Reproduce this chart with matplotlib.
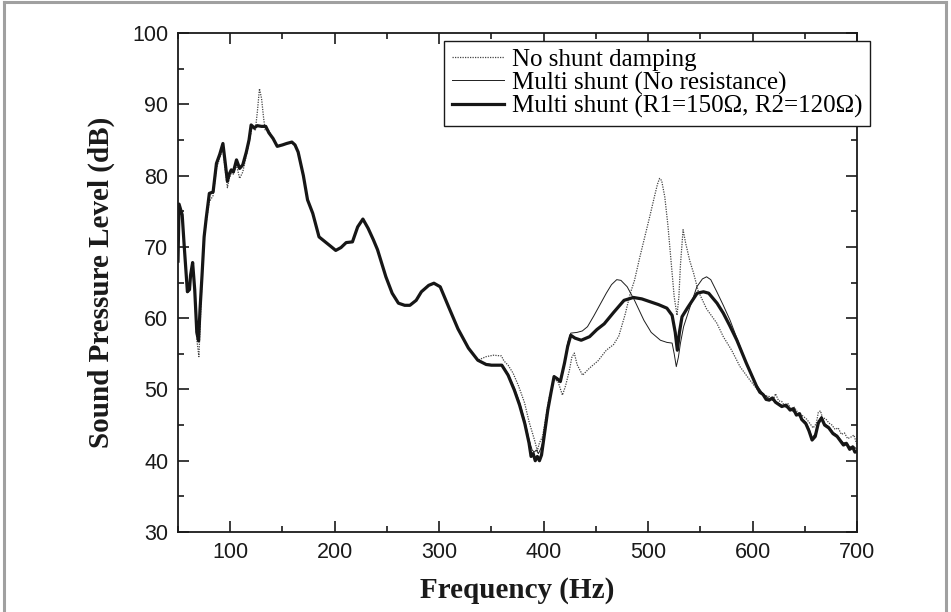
import matplotlib
matplotlib.use("Agg")
import matplotlib.pyplot as plt
from matplotlib.ticker import MultipleLocator
from matplotlib.lines import Line2D

# ---------------- data ----------------
# segment where all three curves (nearly) coincide at the low end
shared_f = [50, 51, 54, 56, 59, 61, 62, 64, 66, 68, 69.7, 71, 73, 75, 77, 80, 83.6,
            86.8, 90, 93, 95, 97.3, 99, 101, 103, 106, 109, 112, 115.4, 118]
shared_db = [68, 76, 74.5, 70, 63.7, 64, 66, 67.8, 64, 58, 56.8, 61, 66, 71.4, 74, 77.5, 77.7,
             81.7, 83, 84.5, 82, 79.2, 80.2, 80.8, 80.5, 82.2, 81.0, 81.5, 83.3, 85]

mid_f = [120, 123, 126, 130, 134, 137, 141, 145, 150, 154, 159, 162, 165, 170, 174, 179,
         185, 191, 196, 201, 206, 211, 217, 222, 227, 232, 237, 241, 249, 255, 261, 267,
         272, 278, 283, 290, 295, 301, 309, 318, 328, 337]
mid_db = [87.1, 86.7, 87.0, 86.9, 86.9, 86.0, 85.2, 84.1, 84.3, 84.5, 84.7, 84.3, 83.3, 80,
          76.6, 74.7, 71.4, 70.7, 70.1, 69.5, 69.9, 70.6, 70.7, 72.8, 73.9, 72.6, 71, 69.6,
          65.8, 63.5, 62.1, 61.8, 61.8, 62.5, 63.7, 64.6, 64.9, 64.4, 61.6, 58.5, 55.8, 54.1]

# Multi shunt (R1=150, R2=120) tail
r_f = [345, 350, 360, 366, 372, 377, 382, 386, 388, 390, 392, 394, 396, 398, 401, 404, 407,
       410, 413, 416, 420, 423, 426, 430, 436, 444, 451, 458, 467, 477, 486, 494, 502, 510,
       518, 523, 526, 528, 530, 532.5, 538, 547, 553, 558, 566, 572, 578, 585, 594, 604,
       607, 610, 613, 616, 619, 622, 625, 628, 632, 636, 639, 642, 645, 647, 651, 654, 657,
       660, 663, 666, 669, 673, 677, 681, 684, 687, 690, 693, 696, 698, 700]
r_db = [53.5, 53.4, 53.4, 52, 49.9, 47.8, 45.2, 42.5, 40.6, 41, 40.0, 40.6, 40, 40.8, 44, 47.1,
        49.5, 51.8, 51.5, 51.1, 53.7, 56, 57.6, 57.2, 56.9, 57.4, 58.4, 59.2, 60.8, 62.5, 62.9,
        62.7, 62.3, 61.9, 61.4, 60.4, 58, 55.5, 58, 60.2, 61.5, 63.5, 63.7, 63.5, 62.1, 60.7,
        59, 56.9, 53.7, 50.4, 49.6, 49.3, 48.6, 48.5, 48.8, 48.2, 47.9, 47.6, 47.8, 47.1, 47.3,
        46.4, 46.6, 45.8, 45.2, 44.2, 42.9, 43.4, 45.3, 46.0, 45.0, 44.6, 43.8, 43.4, 42.8,
        42.2, 42.4, 41.6, 41.9, 41.2, 41.3]

# Multi shunt (No resistance) tail
n_f = [345, 350, 360, 366, 372, 377, 382, 386, 389, 391, 393, 395, 397, 399, 401, 404, 407,
       410, 413, 416, 420, 423, 426, 432, 437, 442, 448, 454.7, 460, 465, 470, 474, 480, 487,
       496, 503, 511.8, 518, 523, 525, 527, 529, 531, 534, 540, 546.7, 552, 556, 560, 565.8,
       572, 578.5, 585, 594, 604, 610, 616, 622, 628, 636, 642, 647, 651, 654, 657, 660, 663,
       666, 669, 673, 677, 681, 684, 687, 690, 693, 696, 700]
n_db = [53.6, 53.5, 53.5, 52.2, 50.2, 48.2, 45.6, 43, 41.5, 41.2, 41.5, 41.0, 41.6, 42.5, 44.5,
        47.3, 49.6, 51.9, 51.6, 51.2, 53.7, 56.5, 57.9, 58.0, 58.2, 58.8, 60.3, 62.1, 63.5, 64.7,
        65.4, 65.3, 64.4, 62.5, 59.7, 58.0, 56.9, 56.6, 56.5, 55, 53.2, 54.5, 56.5, 58.8, 61.5,
        64.4, 65.5, 65.8, 65.4, 63.7, 61.8, 59.7, 57.2, 53.8, 50.6, 49.4, 48.7, 48.3, 47.8, 47.2,
        46.6, 45.9, 45.4, 44.5, 43.2, 43.8, 45.5, 46.2, 45.2, 44.8, 44, 43.6, 43, 42.5, 42.6,
        41.9, 42.1, 41.6]

# No shunt damping (differs at the 128 Hz peak and above 335 Hz)
d_low_f = [50, 51, 54, 56, 59, 61, 62, 64, 66, 68, 70, 71.5, 73, 75, 77, 80, 83.6, 86.8, 90,
           93, 95, 97.3, 99, 101, 103, 106, 109, 112, 115.4, 118, 121, 124, 126, 128, 130,
           132, 133.5, 136, 138]
d_low_db = [68, 76, 74.5, 70, 63.5, 64, 66, 67.5, 63.5, 57, 54.6, 60, 65.5, 71, 73.5, 76.3,
            77.2, 81, 82.5, 83.8, 81, 78.3, 79.6, 80.3, 80.2, 81.5, 79.6, 80.5, 82.8, 84.6,
            86.8, 86.3, 89, 92.2, 90.8, 88, 86.4, 86.5, 86.0]
d_high_f = [345, 352, 359.6, 362, 366, 370.7, 376, 381.8, 386, 391.3, 394, 396, 399, 402, 405,
            410, 414, 418, 421, 424.7, 427, 429.4, 432, 437.3, 444, 452, 460, 467, 472, 478,
            483, 487, 492, 497, 502, 506, 509, 511, 513, 516, 519, 522, 525, 527.7, 529.5,
            531, 533.5, 536, 540, 543.6, 548, 556, 565.8, 572, 580, 588, 597.5, 604, 610, 616,
            620, 622, 625, 628, 631, 634, 637, 640, 644, 648, 652, 655, 658, 661, 663, 665,
            667, 670, 673, 676, 679, 682, 685, 688, 691, 694, 697, 700]
d_high_db = [54.6, 54.8, 54.7, 54, 53.4, 52.3, 50.5, 48.1, 45.5, 42.9, 41.4, 42.5, 43.4, 46,
             48.6, 51.5, 51, 49.2, 50.5, 52.7, 54.5, 55.1, 53.5, 52.0, 53.0, 54.0, 55.5, 56.3,
             57.5, 60.5, 63.5, 65.3, 68.5, 71.5, 74.5, 77.0, 78.8, 79.6, 79.3, 77, 73, 68, 63,
             60.4, 63, 67.5, 72.4, 70.5, 68, 66.3, 63.8, 61.3, 59.3, 57.4, 55.5, 53.2, 51.3,
             50.1, 49.2, 49.0, 48.6, 49.4, 48.4, 48.3, 47.6, 48.0, 47.2, 47.5, 46.6, 46.3,
             45.8, 45.2, 44.6, 45.2, 46.8, 47.0, 46.0, 45.9, 45.3, 45.0, 44.4, 44.6, 43.7,
             43.9, 43.1, 43.3, 43.6, 42.2]

labels = ["No shunt damping", "Multi shunt (No resistance)",
          "Multi shunt (R1=150\u03a9, R2=120\u03a9)"]
x_ticks = [100, 200, 300, 400, 500, 600, 700]
y_ticks = [30, 40, 50, 60, 70, 80, 90, 100]

# assemble series
r_freq = shared_f + mid_f + r_f
r_vals = shared_db + mid_db + r_db
n_freq = shared_f + mid_f + n_f
n_vals = shared_db + mid_db + n_db
d_mid_f = [f for f in mid_f if f > 138]
d_mid_db = [v for f, v in zip(mid_f, mid_db) if f > 138]
d_freq = d_low_f + d_mid_f + d_high_f
d_vals = d_low_db + d_mid_db + d_high_db

# ---------------- figure ----------------
fig = plt.figure(figsize=(9.51, 6.12), dpi=100)
ax = fig.add_axes([178 / 951, 1 - 532 / 612, (857 - 178) / 951, (532 - 33) / 612])

ax.plot(d_freq, d_vals, color="#444444", lw=0.9, ls=(0, (1, 1)), label=labels[0])
ax.plot(n_freq, n_vals, color="#1e1e1e", lw=0.7, label=labels[1])
ax.plot(r_freq, r_vals, color="#161616", lw=2.3, label=labels[2])

ax.set_xlim(50, 700)
ax.set_ylim(30, 100)
ax.set_xticks(x_ticks)
ax.set_yticks(y_ticks)
ax.xaxis.set_minor_locator(MultipleLocator(50))
ax.yaxis.set_minor_locator(MultipleLocator(5))
ax.tick_params(which="both", direction="in", top=True, right=True, width=1.2,
               colors="#1a1a1a")
ax.tick_params(which="major", length=8, pad=7, labelsize=15.5)
ax.tick_params(which="minor", length=4.5)
for lab in ax.get_xticklabels() + ax.get_yticklabels():
    lab.set_fontfamily("Liberation Sans")
    lab.set_color("#1a1a1a")
for s in ax.spines.values():
    s.set_linewidth(1.3)
    s.set_color("#1a1a1a")

ax.set_xlabel("Frequency (Hz)", fontsize=21, fontweight="bold", family="Liberation Serif",
              labelpad=10, color="#1a1a1a")
ax.set_ylabel("Sound Pressure Level (dB)", fontsize=21, fontweight="bold",
              family="Liberation Serif", labelpad=12, color="#1a1a1a")

leg = ax.legend(loc="upper right", bbox_to_anchor=(1.019, 0.984), frameon=True, fancybox=False,
                framealpha=1, edgecolor="#1a1a1a", handlelength=2.1, handletextpad=0.3,
                borderpad=0.3, labelspacing=0.02, borderaxespad=0,
                prop={"family": "Liberation Serif", "size": 18})
leg.get_frame().set_linewidth(1.0)

# outer grey frame of the picture
fig.add_artist(Line2D([4 / 951, 4 / 951], [0, 1 - 2 / 612], transform=fig.transFigure,
                      color="#a0a0a0", lw=2.2))
fig.add_artist(Line2D([946 / 951, 946 / 951], [0, 1 - 2 / 612], transform=fig.transFigure,
                      color="#a0a0a0", lw=2.2))
fig.add_artist(Line2D([4 / 951, 946 / 951], [1 - 2 / 612, 1 - 2 / 612],
                      transform=fig.transFigure, color="#a0a0a0", lw=2.2))

fig.savefig("out.png", dpi=100)
